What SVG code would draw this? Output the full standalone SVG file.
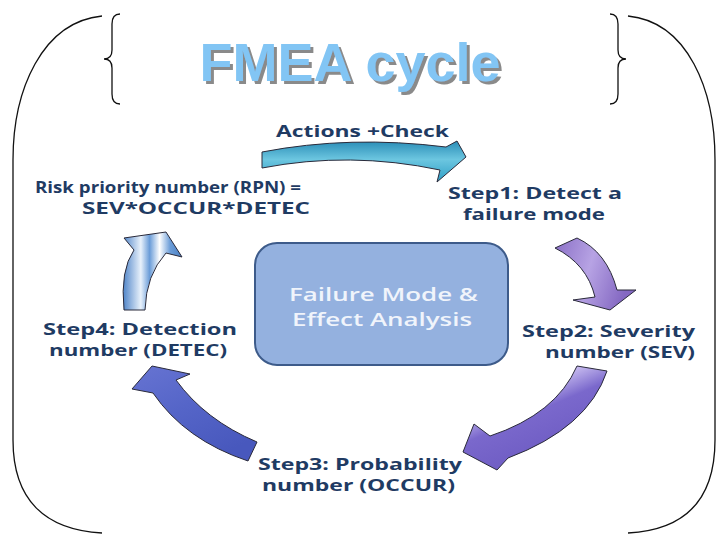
<svg xmlns="http://www.w3.org/2000/svg" width="728" height="546" viewBox="0 0 728 546">
<defs>
<style>
.frame{fill:none;stroke:#111;stroke-width:1.3}
.t{font-family:"Open Sans","DejaVu Sans",Verdana,sans-serif;font-weight:bold;font-size:16.5px;fill:#1f3b63}
.c{font-family:"Open Sans","DejaVu Sans",sans-serif;font-weight:600;font-size:18px;fill:#f0f4fb}
.arr{stroke:#2a2a3a;stroke-width:1;stroke-linejoin:round}
</style>
<filter id="shadow" x="-5%" y="-20%" width="115%" height="150%">
<feOffset in="SourceAlpha" dx="3" dy="3" result="o"/>
<feFlood flood-color="#8a8a8a"/>
<feComposite in2="o" operator="in" result="s"/>
<feMerge><feMergeNode in="s"/><feMergeNode in="SourceGraphic"/></feMerge>
</filter>
<linearGradient id="gTeal" x1="0" y1="0" x2="0" y2="1">
<stop offset="0" stop-color="#2a8db7"/><stop offset="0.45" stop-color="#6cc6e0"/><stop offset="1" stop-color="#2f9fc6"/>
</linearGradient>
<linearGradient id="gP1" x1="0" y1="0" x2="1" y2="0.3">
<stop offset="0" stop-color="#8a6fc6"/><stop offset="0.5" stop-color="#b7a3e4"/><stop offset="1" stop-color="#8468c2"/>
</linearGradient>
<linearGradient id="gP2" x1="0" y1="0" x2="0.6" y2="1">
<stop offset="0" stop-color="#6c5cc2"/><stop offset="0.35" stop-color="#c9bdf0"/><stop offset="0.55" stop-color="#7a68cc"/><stop offset="1" stop-color="#6a58c0"/>
</linearGradient>
<linearGradient id="gB1" x1="0" y1="0" x2="0.6" y2="1">
<stop offset="0" stop-color="#6774d2"/><stop offset="0.5" stop-color="#5565c8"/><stop offset="1" stop-color="#4858bd"/>
</linearGradient>
<linearGradient id="gL" x1="0" y1="0" x2="1" y2="0">
<stop offset="0" stop-color="#4f84c8"/><stop offset="0.3" stop-color="#e8f1fb"/><stop offset="0.45" stop-color="#6a9cd8"/><stop offset="0.62" stop-color="#ffffff"/><stop offset="0.8" stop-color="#6a9cd8"/><stop offset="1" stop-color="#4a7fc2"/>
</linearGradient>
</defs>
<rect width="728" height="546" fill="#ffffff"/>

<g id="frame">
<path class="frame" d="M102,16 C42,22 13,90 13,160 L13,440 C13,500 45,530 102,533"/>
<path class="frame" d="M628,16 C688,22 715,90 715,160 L715,440 C715,500 685,530 628,533"/>
<path class="frame" d="M120,14 Q112,14 112,24 L112,50 Q112,59 104,59 Q112,59 112,68 L112,94 Q112,104 120,104"/>
<path class="frame" d="M610,14 Q618,14 618,24 L618,50 Q618,59 626,59 Q618,59 618,68 L618,94 Q618,104 610,104"/>
</g>

<g id="title">
<text x="350" y="81" text-anchor="middle" font-family="'Liberation Sans',Arial,sans-serif" font-weight="bold" font-size="54" fill="#82c5f4" filter="url(#shadow)">FMEA cycle</text>
</g>

<g id="connectors">
<path class="arr" fill="url(#gTeal)" d="M262,152 Q350,135 446,147 L457,141 L466,157 L437,182 L440,170 Q350,151 262,168 Z"/>
<path class="arr" fill="url(#gP1)" d="M555,248 L577,238 Q607,252 617,290 L636,290 L610,310 L573,300 L595,297 Q587,264 555,248 Z"/>
<path class="arr" fill="url(#gP2)" d="M577,366 L607,371 Q588,428 508,458 L497,470 L463,452 L474,424 L490,436 Q556,414 577,366 Z"/>
<path class="arr" fill="url(#gB1)" d="M132,389 L152,366 L190,374 L176,380 Q205,420 257,442 L248,461 Q185,440 153,393 Z"/>
<path class="arr" fill="url(#gL)" d="M124,310 Q120,270 134,250 L124,238 L166,232 L182,257 L166,253 Q146,275 145,310 Z"/>
</g>

<g id="center">
<rect x="255" y="243" width="253" height="122" rx="22" fill="#94b1df" stroke="#3d5b8a" stroke-width="2"/>
<text class="c"><tspan x="289" y="301" textLength="189" lengthAdjust="spacingAndGlyphs">Failure Mode &amp;</tspan><tspan x="292" y="326" textLength="180" lengthAdjust="spacingAndGlyphs">Effect Analysis</tspan></text>
</g>

<g id="actions">
<text class="t" x="276" y="137" textLength="173" lengthAdjust="spacingAndGlyphs">Actions +Check</text>
</g>
<g id="rpn">
<text class="t"><tspan x="35" y="193" textLength="266" lengthAdjust="spacingAndGlyphs">Risk priority number (RPN) =</tspan><tspan x="82" y="214" textLength="228" lengthAdjust="spacingAndGlyphs">SEV*OCCUR*DETEC</tspan></text>
</g>
<g id="step1">
<text class="t"><tspan x="448" y="199" textLength="174" lengthAdjust="spacingAndGlyphs">Step1: Detect a</tspan><tspan x="463" y="220" textLength="142" lengthAdjust="spacingAndGlyphs">failure mode</tspan></text>
</g>
<g id="step2">
<text class="t"><tspan x="522" y="337" textLength="173" lengthAdjust="spacingAndGlyphs">Step2: Severity</tspan><tspan x="545" y="358" textLength="150" lengthAdjust="spacingAndGlyphs">number (SEV)</tspan></text>
</g>
<g id="step3">
<text class="t"><tspan x="258" y="470" textLength="204" lengthAdjust="spacingAndGlyphs">Step3: Probability</tspan><tspan x="262" y="491" textLength="193" lengthAdjust="spacingAndGlyphs">number (OCCUR)</tspan></text>
</g>
<g id="step4">
<text class="t"><tspan x="43" y="335" textLength="194" lengthAdjust="spacingAndGlyphs">Step4: Detection</tspan><tspan x="49" y="356" textLength="178" lengthAdjust="spacingAndGlyphs">number (DETEC)</tspan></text>
</g>
</svg>
